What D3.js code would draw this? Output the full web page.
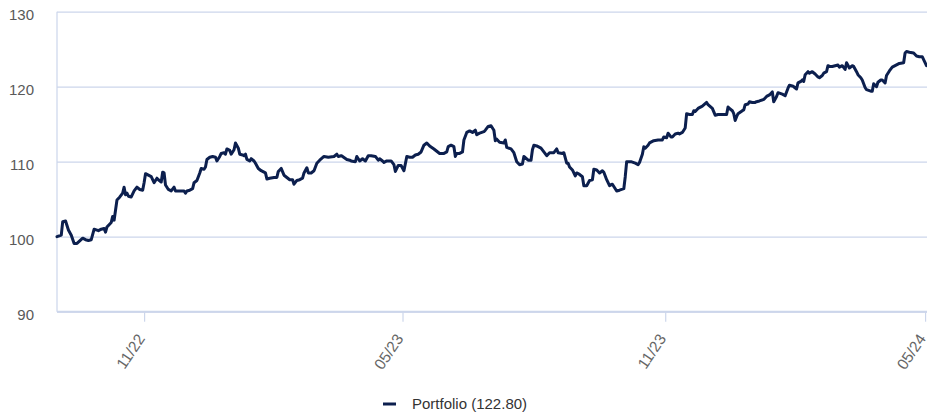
<!DOCTYPE html>
<html>
<head>
<meta charset="utf-8">
<script src="https://cdn.jsdelivr.net/npm/d3@7/dist/d3.min.js"></script>
<style>
  html, body { margin: 0; padding: 0; background: #fff; }
  svg { display: block; font-family: "Liberation Sans", Arial, sans-serif; }
</style>
</head>
<body>
<svg id="chart" width="927" height="416"></svg>
<script>
const seriesName = "Portfolio";
const lastValueLabel = "122.80";
const yTicks = [90, 100, 110, 120, 130];
const xTickDates = ["2022-11-01", "2023-05-01", "2023-11-01", "2024-05-01"];
const xTickLabels = ["11/22", "05/23", "11/23", "05/24"];
const dateDomain = ["2022-09-01", "2024-05-02"];

const dates = [
"2022-09-01","2022-09-04","2022-09-05","2022-09-07","2022-09-09","2022-09-11","2022-09-13","2022-09-15","2022-09-19","2022-09-21",
"2022-09-23","2022-09-25","2022-09-27","2022-09-30","2022-10-02","2022-10-04","2022-10-05","2022-10-06","2022-10-09","2022-10-10",
"2022-10-11","2022-10-13","2022-10-15","2022-10-17","2022-10-18","2022-10-19","2022-10-20","2022-10-21","2022-10-23","2022-10-25",
"2022-10-27","2022-10-29","2022-10-31","2022-11-01","2022-11-02","2022-11-04","2022-11-06","2022-11-08","2022-11-10","2022-11-11",
"2022-11-13","2022-11-14","2022-11-15","2022-11-16","2022-11-18","2022-11-20","2022-11-22","2022-11-23","2022-11-26","2022-11-29",
"2022-11-30","2022-12-01","2022-12-03","2022-12-05","2022-12-06","2022-12-08","2022-12-10","2022-12-11","2022-12-13","2022-12-14",
"2022-12-15","2022-12-17","2022-12-19","2022-12-21","2022-12-22","2022-12-24","2022-12-25","2022-12-27","2022-12-28","2022-12-29",
"2022-12-31","2023-01-01","2023-01-03","2023-01-04","2023-01-06","2023-01-07","2023-01-09","2023-01-10","2023-01-11","2023-01-12",
"2023-01-14","2023-01-15","2023-01-17","2023-01-18","2023-01-20","2023-01-22","2023-01-25","2023-01-26","2023-01-28","2023-01-31",
"2023-02-02","2023-02-03","2023-02-05","2023-02-07","2023-02-09","2023-02-11","2023-02-13","2023-02-14","2023-02-16","2023-02-18",
"2023-02-20","2023-02-21","2023-02-23","2023-02-24","2023-02-26","2023-02-28","2023-03-02","2023-03-04","2023-03-07","2023-03-10",
"2023-03-14","2023-03-16","2023-03-17","2023-03-19","2023-03-20","2023-03-23","2023-03-25","2023-03-26","2023-03-29","2023-03-30",
"2023-04-01","2023-04-03","2023-04-05","2023-04-07","2023-04-09","2023-04-12","2023-04-14","2023-04-15","2023-04-17","2023-04-18",
"2023-04-20","2023-04-23","2023-04-25","2023-04-26","2023-04-28","2023-04-30","2023-05-02","2023-05-04","2023-05-06","2023-05-08",
"2023-05-10","2023-05-12","2023-05-14","2023-05-16","2023-05-18","2023-05-20","2023-05-23","2023-05-25","2023-05-27","2023-05-30",
"2023-06-01","2023-06-02","2023-06-04","2023-06-06","2023-06-07","2023-06-08","2023-06-10","2023-06-12","2023-06-13","2023-06-15",
"2023-06-17","2023-06-19","2023-06-21","2023-06-22","2023-06-24","2023-06-27","2023-06-28","2023-06-30","2023-07-02","2023-07-04",
"2023-07-05","2023-07-06","2023-07-08","2023-07-11","2023-07-12","2023-07-13","2023-07-16","2023-07-18","2023-07-20","2023-07-22",
"2023-07-24","2023-07-25","2023-07-28","2023-07-30","2023-07-31","2023-08-01","2023-08-03","2023-08-06","2023-08-08","2023-08-10",
"2023-08-12","2023-08-15","2023-08-17","2023-08-18","2023-08-21","2023-08-22","2023-08-24","2023-08-25","2023-08-26","2023-08-28",
"2023-08-30","2023-08-31","2023-09-02","2023-09-04","2023-09-05","2023-09-07","2023-09-09","2023-09-11","2023-09-12","2023-09-14",
"2023-09-16","2023-09-18","2023-09-19","2023-09-21","2023-09-23","2023-09-25","2023-09-28","2023-09-30","2023-10-03","2023-10-04",
"2023-10-05","2023-10-08","2023-10-11","2023-10-13","2023-10-14","2023-10-16","2023-10-17","2023-10-18","2023-10-20","2023-10-21",
"2023-10-24","2023-10-27","2023-10-30","2023-10-31","2023-11-02","2023-11-03","2023-11-05","2023-11-06","2023-11-08","2023-11-10",
"2023-11-11","2023-11-13","2023-11-15","2023-11-16","2023-11-18","2023-11-20","2023-11-21","2023-11-22","2023-11-24","2023-11-27",
"2023-11-30","2023-12-01","2023-12-04","2023-12-06","2023-12-08","2023-12-11","2023-12-14","2023-12-15","2023-12-16","2023-12-18",
"2023-12-19","2023-12-20","2023-12-21","2023-12-22","2023-12-25","2023-12-26","2023-12-27","2023-12-29","2023-12-30","2024-01-01",
"2024-01-03","2024-01-04","2024-01-06","2024-01-09","2024-01-11","2024-01-13","2024-01-15","2024-01-16","2024-01-18","2024-01-19",
"2024-01-22","2024-01-23","2024-01-24","2024-01-26","2024-01-27","2024-01-29","2024-01-30","2024-02-01","2024-02-02","2024-02-04",
"2024-02-05","2024-02-06","2024-02-07","2024-02-09","2024-02-10","2024-02-12","2024-02-14","2024-02-16","2024-02-17","2024-02-19",
"2024-02-20","2024-02-22","2024-02-23","2024-02-24","2024-02-26","2024-02-28","2024-03-01","2024-03-02","2024-03-04","2024-03-06",
"2024-03-07","2024-03-09","2024-03-11","2024-03-12","2024-03-14","2024-03-15","2024-03-17","2024-03-18","2024-03-20","2024-03-21",
"2024-03-24","2024-03-25","2024-03-26","2024-03-28","2024-03-29","2024-03-31","2024-04-01","2024-04-03","2024-04-04","2024-04-06",
"2024-04-08","2024-04-11","2024-04-13","2024-04-16","2024-04-17","2024-04-18","2024-04-20","2024-04-23","2024-04-25","2024-04-27",
"2024-04-29","2024-05-01","2024-05-02"
];

const values = [
100.0,100.2,102.0,102.1,100.9,100.2,99.1,99.1,99.8,99.6,
99.5,99.6,101.0,100.8,101.0,101.1,100.6,101.3,101.9,102.7,
102.2,104.9,105.3,105.8,106.6,105.6,105.8,105.4,105.3,106.1,
106.6,106.3,106.2,107.2,108.4,108.2,108.0,107.2,107.8,107.6,
107.3,108.6,108.5,106.9,106.3,106.1,106.6,106.1,106.1,106.1,
105.8,106.1,106.2,106.4,107.2,107.5,108.5,109.1,109.0,109.3,
110.3,110.6,110.7,110.6,110.1,110.7,111.1,111.2,111.0,111.7,
111.5,111.0,111.6,112.5,111.8,111.0,110.9,110.8,111.0,110.3,
110.1,110.4,110.1,109.8,109.1,108.8,108.5,107.7,107.8,107.9,
107.9,108.7,109.1,108.2,107.9,107.6,107.6,107.0,107.5,107.6,
107.8,108.5,109.2,108.5,108.5,108.8,109.8,110.2,110.7,110.6,
110.7,111.0,110.7,110.8,110.7,110.3,110.2,110.1,110.0,110.7,
110.1,110.4,110.1,110.8,110.8,110.7,110.2,110.4,110.1,109.9,
110.1,110.1,109.6,108.7,109.5,109.5,108.8,110.7,110.6,110.6,
110.9,111.0,111.3,112.2,112.5,112.1,111.7,111.4,111.1,111.1,
111.3,112.0,112.2,112.0,110.7,111.1,111.1,111.3,112.9,113.9,
114.1,113.9,114.2,113.6,113.8,114.0,114.2,114.7,114.8,114.2,
112.8,113.0,112.6,112.5,112.9,111.9,111.7,111.2,110.0,109.6,
109.7,110.7,110.2,110.2,111.6,112.2,112.1,111.8,111.3,110.8,
111.2,111.2,111.7,111.2,111.1,111.2,109.8,109.8,109.3,108.9,
108.1,108.5,108.3,108.0,106.8,106.8,107.5,107.6,109.0,108.9,
108.5,108.8,108.6,107.6,106.8,107.0,106.1,106.2,106.4,108.0,
110.0,110.0,109.8,109.6,109.9,111.0,112.0,111.8,112.2,112.5,
112.8,112.9,112.9,113.3,113.2,113.8,113.3,113.3,113.7,113.8,
113.7,113.9,114.5,116.4,116.3,116.3,116.8,116.7,117.1,117.4,
117.9,117.6,117.1,116.2,116.3,116.3,116.3,117.3,117.1,116.8,
116.4,115.5,116.0,116.4,116.8,116.9,117.6,117.7,118.0,117.9,
117.9,118.0,118.1,118.3,118.7,118.9,119.3,118.0,118.7,119.2,
119.0,118.9,118.8,119.8,120.2,120.1,120.0,119.7,120.5,120.7,
120.9,120.7,121.6,122.0,121.8,122.0,121.7,121.3,121.2,121.5,
121.8,122.0,122.8,122.7,122.7,122.8,122.9,122.6,122.8,122.3,
123.2,122.5,122.8,122.7,122.0,121.6,121.2,120.9,119.9,119.6,
119.4,119.4,120.4,120.0,120.6,120.9,120.9,120.5,121.5,122.1,
122.6,122.9,123.1,123.2,124.5,124.7,124.6,124.5,124.1,124.0,
124.0,123.2,122.8
];

const svg = d3.select("#chart");
const W = 927, H = 416;
const plot = { left: 57, right: 926.5, top: 11.7, bottom: 311.7 };

const parse = d3.timeParse("%Y-%m-%d");
const data = dates.map((d, i) => ({ date: parse(d), value: values[i] }));

const x = d3.scaleTime()
  .domain(dateDomain.map(parse))
  .range([plot.left, plot.right]);
const y = d3.scaleLinear()
  .domain([90, 130])
  .range([plot.bottom, plot.top]);

const gridColor = "#ccd6eb";
const textColor = "#595959";
const lineColor = "#0c1f4e";

// horizontal gridlines + y labels
const yAxis = d3.axisLeft(y)
  .tickValues(yTicks)
  .tickSize(-(W - plot.left))
  .tickPadding(23)
  .tickFormat(d3.format("d"));
const gy = svg.append("g")
  .attr("transform", `translate(${plot.left},0)`)
  .call(yAxis);
gy.select(".domain").remove();
gy.selectAll(".tick line").attr("stroke", gridColor).attr("stroke-width", 1.2);
gy.selectAll(".tick text")
  .attr("fill", textColor)
  .attr("font-size", 15)
  .attr("dy", "0.55em")
  .attr("x", 34 - plot.left)
  .attr("text-anchor", "end");

// left axis line
svg.append("line")
  .attr("x1", plot.left).attr("x2", plot.left)
  .attr("y1", plot.top).attr("y2", plot.bottom)
  .attr("stroke", gridColor).attr("stroke-width", 1.2);

// x axis
const xAxis = d3.axisBottom(x)
  .tickValues(xTickDates.map(parse))
  .tickSize(10)
  .tickFormat((d, i) => xTickLabels[i]);
const gx = svg.append("g")
  .attr("transform", `translate(0,${plot.bottom})`)
  .call(xAxis);
gx.select(".domain")
  .attr("stroke", gridColor).attr("stroke-width", 2)
  .attr("d", `M${plot.left},0H${W}`);
gx.selectAll(".tick line").attr("stroke", gridColor).attr("stroke-width", 1.2);
gx.selectAll(".tick text")
  .attr("fill", "#666")
  .attr("font-size", 15.5)
  .attr("y", 0).attr("dy", 0)
  .attr("text-anchor", "end")
  .attr("transform", "translate(1,27) rotate(-56)");

// line
const line = d3.line()
  .x(d => x(d.date))
  .y(d => y(d.value))
  .curve(d3.curveLinear);
svg.append("path")
  .datum(data)
  .attr("fill", "none")
  .attr("stroke", lineColor)
  .attr("stroke-width", 3)
  .attr("stroke-linejoin", "round")
  .attr("stroke-linecap", "round")
  .attr("d", line);

// legend
const lg = svg.append("g").attr("transform", "translate(383,404)");
lg.append("line")
  .attr("x1", 0).attr("x2", 13).attr("y1", 0).attr("y2", 0)
  .attr("stroke", lineColor).attr("stroke-width", 3);
lg.append("text")
  .attr("x", 29).attr("y", 5)
  .attr("fill", "#333")
  .attr("font-size", 15)
  .text(`${seriesName} (${lastValueLabel})`);
</script>
</body>
</html>
